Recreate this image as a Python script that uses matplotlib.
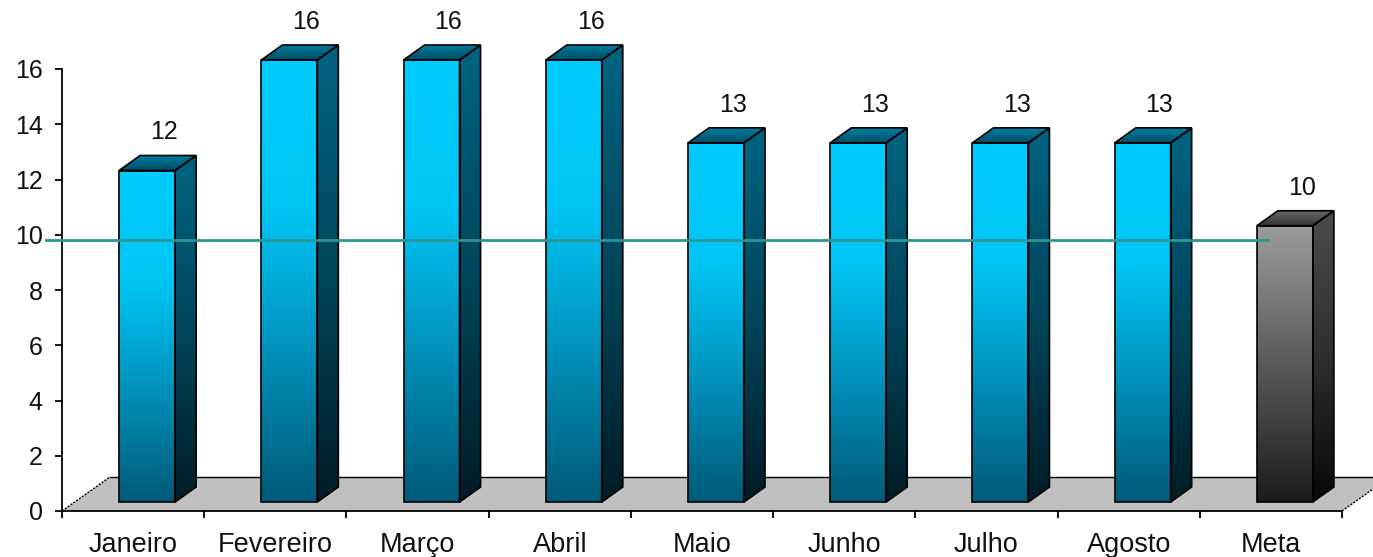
import matplotlib.pyplot as plt
import numpy as np
from matplotlib.colors import LinearSegmentedColormap
from matplotlib.patches import Polygon

plt.rcParams['font.family'] = ['Liberation Sans', 'DejaVu Sans']

# Dados
meses = ["Janeiro", "Fevereiro", "Março", "Abril", "Maio", "Junho", "Julho", "Agosto", "Meta"]
valores = [12, 16, 16, 16, 13, 13, 13, 13, 10]
meta_linha = 9.8
yticks = list(range(0, 17, 2))

# Cores (frente base->topo, lateral base->topo, tampa fundo->frente)
cores_azul = dict(frente=['#005A78', '#0090BA', '#00C6F6', '#00CCFF'],
                  lado=['#001C26', '#00465C', '#006482'],
                  tampa=['#004C66', '#0080A2'])
cores_meta = dict(frente=['#1C1C1C', '#5A5A5A', '#9C9C9C'],
                  lado=['#080808', '#2E2E2E', '#4C4C4C'],
                  tampa=['#333333', '#666666'])

# Geometria "3D" (em unidades de dados)
sx, sy = 1280 / 9, 442 / 16
fdx, fdy = 48 / sx, 34 / sy        # profundidade do piso
bdx, bdy = 14 / sx, 9 / sy         # deslocamento da face frontal
ddx, ddy = 21 / sx, 15 / sy        # profundidade da barra
larg = 56 / sx
ytop = 18.4                        # espaço acima do eixo para as tampas e rótulos


def preenche(ax, poly, cores, z):
    cmap = LinearSegmentedColormap.from_list('g', cores)
    xs, ys = zip(*poly)
    patch = Polygon(poly, closed=True, facecolor='none', edgecolor='black',
                    linewidth=1.2, zorder=z + 0.1, clip_on=False)
    ax.add_patch(patch)
    grad = np.linspace(0, 1, 256).reshape(-1, 1)
    im = ax.imshow(grad, cmap=cmap, origin='lower', aspect='auto',
                   extent=(min(xs), max(xs), min(ys), max(ys)),
                   interpolation='bilinear', zorder=z)
    im.set_clip_path(patch)


fig = plt.figure(figsize=(13.73, 5.57), dpi=100)
ax = fig.add_axes([62 / 1373, 46 / 557, 1280 / 1373, ytop * sy / 557])

# Piso
piso = [(-0.5, 0), (8.5, 0), (8.5 + fdx, fdy), (-0.5 + fdx, fdy)]
ax.add_patch(Polygon(piso, closed=True, facecolor='#C0C0C0', edgecolor='none',
                     zorder=1, clip_on=False))
ax.plot([-0.5 + fdx, 8.5 + fdx], [fdy, fdy], color='black', lw=1, zorder=1.5, clip_on=False)
ax.plot([-0.5, -0.5 + fdx], [0, fdy], color='black', lw=1, ls=(0, (1.5, 1)), zorder=1.5, clip_on=False)
ax.plot([8.5, 8.5 + fdx], [0, fdy], color='black', lw=1, ls=(0, (1.5, 1)), zorder=1.5, clip_on=False)

# Barras
for i, (mes, v) in enumerate(zip(meses, valores)):
    cores = cores_meta if mes == "Meta" else cores_azul
    xl = i + bdx - larg / 2
    xr = i + bdx + larg / 2
    y0, y1 = bdy, v + bdy
    z = 3 + i * 0.01
    preenche(ax, [(xl, y0), (xr, y0), (xr, y1), (xl, y1)], cores['frente'], z)
    preenche(ax, [(xr, y0), (xr + ddx, y0 + ddy), (xr + ddx, y1 + ddy), (xr, y1)], cores['lado'], z)
    preenche(ax, [(xl, y1), (xr, y1), (xr + ddx, y1 + ddy), (xl + ddx, y1 + ddy)], cores['tampa'], z)
    ax.annotate(str(v), (i + bdx + ddx * 0.8, y1 + ddy), xytext=(0, 8),
                textcoords='offset points', ha='center', va='bottom',
                fontsize=18, color='#111111', annotation_clip=False)

# Linha da meta
ax.plot([-0.61, 7.98], [meta_linha, meta_linha], color='#2A9696', lw=2,
        zorder=6, clip_on=False)

# Eixos
ax.set_xlim(-0.5, 8.5)
ax.set_ylim(0, ytop)
for s in ['top', 'right']:
    ax.spines[s].set_visible(False)
ax.spines['left'].set_bounds(0, 16)
ax.spines['left'].set_linewidth(1.3)
ax.spines['bottom'].set_linewidth(1.3)
ax.set_yticks(yticks)
ax.set_yticklabels([str(t) for t in yticks], fontsize=18, color='#111111')
ax.tick_params(axis='y', direction='out', length=5, width=1.3, pad=9)
ax.set_xticks(range(len(meses)))
ax.set_xticklabels(meses, fontsize=19.5, color='#111111')
ax.set_xticks(np.arange(-0.5, 9, 1), minor=True)
ax.tick_params(axis='x', which='major', length=0, pad=15)
ax.tick_params(axis='x', which='minor', direction='out', length=5, width=1.3)
ax.set_facecolor('none')

fig.savefig('out.png', dpi=100)
